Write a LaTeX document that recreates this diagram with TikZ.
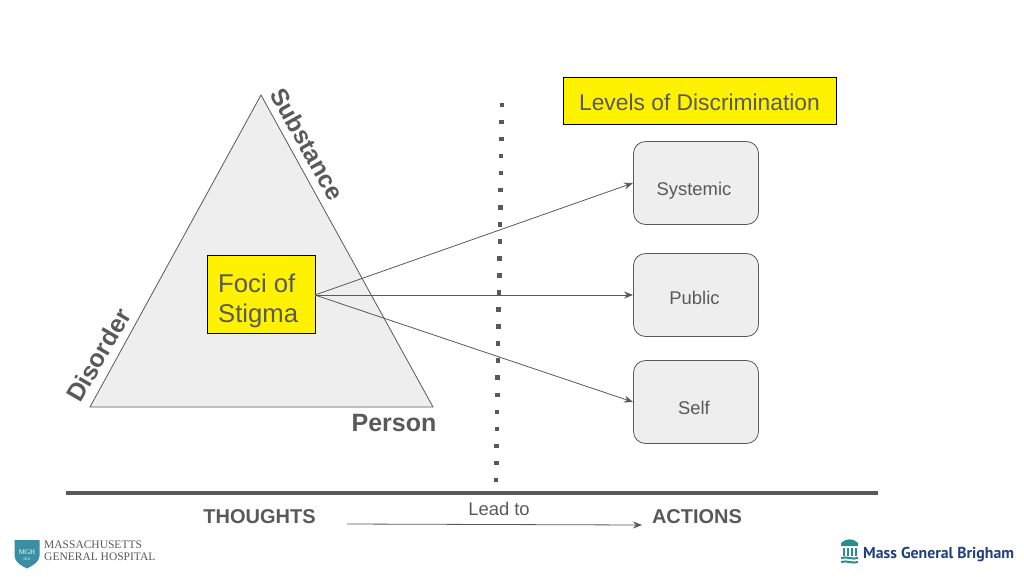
\documentclass[tikz,border=0pt]{standalone}
\usepackage{fontspec}
\setmainfont{Liberation Sans}
\newfontfamily\logoserif{Liberation Serif}
\newfontfamily\logosans{PT Sans}
\usetikzlibrary{arrows.meta}
\definecolor{ink}{HTML}{595959}
\definecolor{fillg}{HTML}{EEEEEE}
\definecolor{mgh}{HTML}{3A8FA3}
\definecolor{mgb}{HTML}{1F3F7F}
\definecolor{mgbt}{HTML}{2A8C8C}
\tikzset{
  px/.style={x=1pt,y=-1pt},
  levelbox/.style={draw=ink,fill=fillg,rounded corners=12pt,line width=0.8pt,minimum width=125pt,minimum height=83pt,inner sep=0pt},
  yellowbox/.style={draw=black,fill=yellow,line width=0.8pt,inner sep=0pt},
  conn/.style={draw=ink,line width=0.8pt,-{Stealth[length=9pt,width=7pt]}},
  lab/.style={text=ink,font=\fontsize{18.4}{20}\selectfont,inner sep=0pt},
  boldlab/.style={text=ink,font=\bfseries\fontsize{20}{22}\selectfont,inner sep=0pt},
  sidelab/.style={text=ink,font=\bfseries\fontsize{25}{27}\selectfont,inner sep=0pt},
  dotm/.style={fill=ink,minimum size=4.5pt,inner sep=0pt,draw=none,rectangle}
}
\begin{document}
\begin{tikzpicture}[px]
\useasboundingbox (0,0) rectangle (1024,576);
% triangle
\coordinate (apex) at (261,95);
\coordinate (left) at (90,407);
\coordinate (right) at (433,407);
\draw[draw=ink,fill=fillg,line width=0.8pt] (apex) -- (right) -- (left) -- cycle;
\node[sidelab,rotate=-61,font=\bfseries\fontsize{24.5}{27}\selectfont] (subs) at (307.5,144) {Substance};
\node[sidelab,rotate=60] (dis) at (98.5,355) {Disorder};
\node[sidelab] (pers) at (394,423) {Person};
% focus box
\node[yellowbox,minimum width=108pt,minimum height=78pt] (foci) at (261,294.5) {};
\node[text=ink,font=\fontsize{25.7}{30}\selectfont,align=left,anchor=west,inner sep=0pt] (focit) at (218,301) {Foci of\\Stigma};
% level boxes
\node[yellowbox,minimum width=273pt,minimum height=47pt] (levels) at (699.5,101) {};
\node[text=ink,font=\fontsize{22.8}{26}\selectfont,inner sep=0pt] (levelst) at (699.5,102) {Levels of Discrimination};
\node[levelbox] (sys) at (696,183) {};
\node[lab] (syst) at (694,191) {Systemic};
\node[levelbox] (pub) at (696,295) {};
\node[lab] (pubt) at (694.5,298) {Public};
\node[levelbox] (slf) at (696,402) {};
\node[lab] (slft) at (694,408) {Self};
% connectors
\coordinate (src) at (315,295);
\draw[conn] (src) -- (633,183);
\draw[conn] (src) -- (633,295);
\draw[conn] (src) -- (633,402);
% dotted divider
\foreach \i in {0,...,22} {
  \node[dotm] (d\i) at ({502-\i*6/22},{105+\i*375/22}) {};
}
% base line
\coordinate (ba) at (66,493);
\coordinate (bb) at (878,493);
\draw[draw=ink,line width=4pt] (ba) -- (bb);
\node[boldlab] (tho) at (259.5,517) {THOUGHTS};
\node[boldlab] (act) at (697,517) {ACTIONS};
\node[lab] (lead) at (499,508.5) {Lead to};
\coordinate (la) at (347,524);
\coordinate (lb) at (642,525);
\draw[conn] (la) -- (lb);
% MGH logo
\path[fill=mgh] (14.5,540) -- (39.5,540) -- (39.5,556) .. controls (39.5,562) and (32,566) .. (27,568.5) .. controls (22,566) and (14.5,562) .. (14.5,556) -- cycle;
\node[text=white,font=\logoserif\fontsize{7}{7}\selectfont,inner sep=0pt] (mghs) at (27,552) {MGH};
\node[text=white,font=\logoserif\fontsize{4}{4}\selectfont,inner sep=0pt] (mghy) at (27,559) {1811};
\node[text=ink,font=\logoserif\fontsize{11.5}{11.8}\selectfont,align=left,anchor=west,inner sep=0pt] (mghn) at (44,550.5) {MASSACHUSETTS\\GENERAL HOSPITAL};
% MGB logo
\path[fill=mgbt] (841,543) .. controls (846,538) and (853,538) .. (858,543) -- (858,546) -- (841,546) -- cycle;
\foreach \xx in {843,847,851,855} { \fill[mgbt] (\xx,548) rectangle (\xx+2,556); }
\path[fill=mgbt] (841,557) .. controls (847,555) and (852,559) .. (858,557) -- (858,559) .. controls (852,561) and (847,557) .. (841,559) -- cycle;
\path[fill=mgbt] (841,561) .. controls (847,559) and (852,563) .. (858,561) -- (858,563) .. controls (852,565) and (847,561) .. (841,563) -- cycle;
\node[text=mgb,font=\logosans\bfseries\fontsize{15.8}{16}\selectfont,inner sep=0pt,anchor=west] (mgbn) at (863,554.5) {Mass General Brigham};
\end{tikzpicture}
\end{document}
